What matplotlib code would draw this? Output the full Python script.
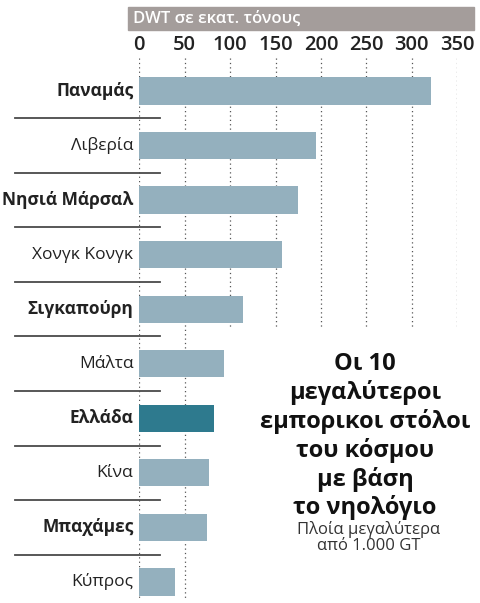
"""Top 10 merchant fleets by flag, DWT."""

import matplotlib.pyplot as plt
from matplotlib.transforms import blended_transform_factory

plt.rcParams['font.family'] = ['Open Sans', 'DejaVu Sans']

countries = ["Παναμάς", "Λιβερία", "Νησιά Μάρσαλ", "Χονγκ Κονγκ", "Σιγκαπούρη",
             "Μάλτα", "Ελλάδα", "Κίνα", "Μπαχάμες", "Κύπρος"]
dwt = [321, 194, 175, 157, 114, 93, 82, 77, 74.5, 39]
ticks = [0, 50, 100, 150, 200, 250, 300, 350]
highlight = "Ελλάδα"

title_lines = ["Οι 10", "μεγαλύτεροι", "εμπορικοι στόλοι",
               "του κόσμου", "με βάση", "το νηολόγιο"]
sub_lines = ["Πλοία μεγαλύτερα", "από 1.000 GT"]

W, H = 481, 603
BAR = "#94b0be"
DARK = "#2e7a8e"
GREY = "#a49d9b"
INK = "#222222"

fig = plt.figure(figsize=(W / 100, H / 100), dpi=100)
fig.patch.set_facecolor("white")

# axes placed in pixel terms: x 0..350 spans 139..457 px
ax_left, ax_right = 139.3 / W, 457.3 / W
ax_top, ax_bot = 56, 603
ax = fig.add_axes([ax_left, 1 - ax_bot / H, ax_right - ax_left, (ax_bot - ax_top) / H])
row0, step = 91, 54.55
ax.set_xlim(0, 350)
ax.set_ylim((ax_bot - row0) / step, (ax_top - row0) / step)
for s in ax.spines.values():
    s.set_visible(False)
ax.set_facecolor("none")

# dotted gridlines, the long ones only at 0 and 50
for t in ticks:
    low = 9.3 if t <= 50 else (327 - row0) / step
    ax.vlines(t, (58 - row0) / step, low, colors="#555555",
              linestyles=(0, (1, 2.5)), linewidth=0.9, zorder=1)

colors = [DARK if c == highlight else BAR for c in countries]
ax.barh(range(len(countries)), dwt, height=0.5, color=colors, zorder=2)

ax.set_xticks(ticks)
ax.set_xticklabels([str(t) for t in ticks], fontweight="semibold")
ax.tick_params(top=True, labeltop=True, bottom=False, labelbottom=False,
               left=False, labelleft=False, length=0, pad=0.5, labelsize=14.5,
               labelcolor=INK)
ax.set_yticks([])

# country labels, every other one bold
for i, name in enumerate(countries):
    ax.text(-6.5, i, name, ha="right", va="center", fontsize=12.5,
            color=INK, fontweight="bold" if i % 2 == 0 else "normal")

# separator rules between rows
tr = blended_transform_factory(fig.transFigure, ax.transData)
for i in range(len(countries) - 1):
    ax.plot([15 / W, 160 / W], [i + 0.5, i + 0.5], transform=tr,
            color="#4a4a4a", linewidth=1.3, clip_on=False, zorder=3)

# header band
fig.patches.append(plt.Rectangle((128 / W, 1 - 30 / H), (474 - 128) / W, 23 / H,
                                 transform=fig.transFigure, color=GREY))
fig.text(133 / W, 1 - 19 / H, "DWT σε εκατ. τόνους", color="white",
         fontsize=12, fontweight="semibold", va="center", ha="left")

# title block
for k, line in enumerate(title_lines):
    fig.text(365 / W, 1 - (364 + 28.8 * k) / H, line, ha="center", va="center",
             fontsize=17, fontweight="bold", color="#111111")
for k, line in enumerate(sub_lines):
    fig.text(369 / W, 1 - (530 + 16.5 * k) / H, line, ha="center", va="center",
             fontsize=12, color="#333333")

fig.savefig("out.png", dpi=100)
